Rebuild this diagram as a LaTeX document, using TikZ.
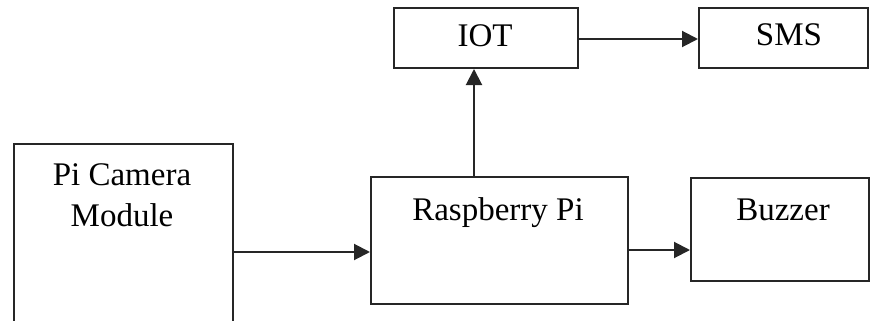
\documentclass[tikz,border=0pt]{standalone}
\usepackage{fontspec}
\setmainfont{Liberation Serif}
\usetikzlibrary{arrows.meta}
\begin{document}
\begin{tikzpicture}[x=1pt,y=-1pt,
  blk/.style={draw=black!85,line width=2pt,rectangle,inner sep=0pt,anchor=north west},
  lbl/.style={anchor=base,inner sep=0pt,font=\fontsize{33}{40}\selectfont},
  conn/.style={draw=black!85,line width=2pt,-{Triangle[length=16pt,width=16pt]}}]
\useasboundingbox (0,0) rectangle (870,321);
% boxes
\node[blk,minimum width=219pt,minimum height=210pt] (cam) at (13,143) {};
\node[blk,minimum width=257pt,minimum height=127pt] (rpi) at (370,176) {};
\node[blk,minimum width=178pt,minimum height=103pt] (buz) at (690,177) {};
\node[blk,minimum width=184pt,minimum height=60pt] (iot) at (393,7) {};
\node[blk,minimum width=169pt,minimum height=60pt] (sms) at (698,7) {};
% labels
\node[lbl] (t1) at (122,185) {Pi Camera};
\node[lbl] (t2) at (122,226) {Module};
\node[lbl] (t3) at (498,220) {Raspberry Pi};
\node[lbl] (t4) at (783,220) {Buzzer};
\node[lbl] (t5) at (485,47) {IOT};
\node[lbl] (t6) at (789,46) {SMS};
% connectors
\draw[conn] (cam.east |- 0,252) -- (rpi.west |- 0,252);
\draw[conn] (rpi.east |- 0,250) -- (buz.west |- 0,250);
\draw[conn] (rpi.north -| 474,0) -- (iot.south -| 474,0);
\draw[conn] (iot.east |- 0,39) -- (sms.west |- 0,39);
\end{tikzpicture}
\end{document}
